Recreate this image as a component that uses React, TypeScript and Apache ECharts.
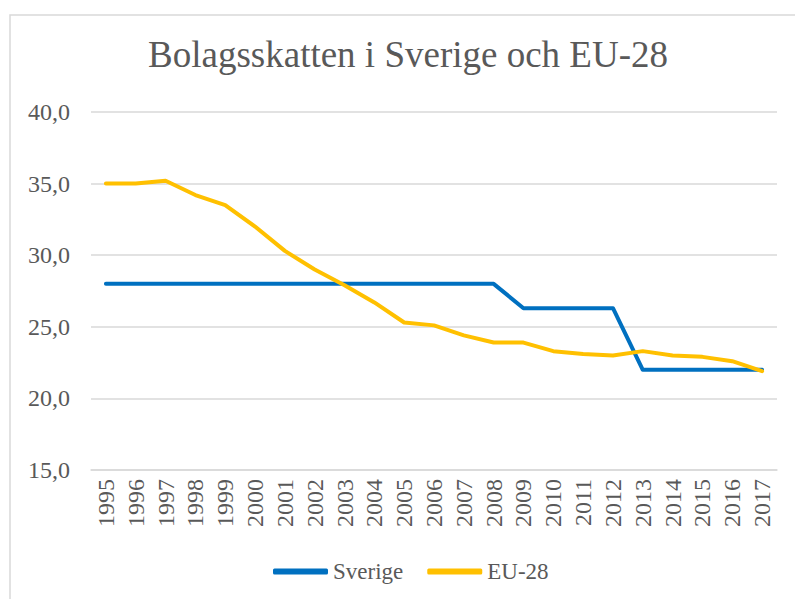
import React, { useEffect, useRef } from "react";
import * as echarts from "echarts";

const years = ["1995","1996","1997","1998","1999","2000","2001","2002","2003","2004","2005","2006","2007","2008","2009","2010","2011","2012","2013","2014","2015","2016","2017"];
const sverige = [28.0,28.0,28.0,28.0,28.0,28.0,28.0,28.0,28.0,28.0,28.0,28.0,28.0,28.0,26.3,26.3,26.3,26.3,22.0,22.0,22.0,22.0,22.0];
const eu28 = [35.0,35.0,35.2,34.2,33.5,32.0,30.3,29.0,27.9,26.7,25.3,25.1,24.4,23.9,23.9,23.3,23.1,23.0,23.3,23.0,22.9,22.6,21.9];
const yTicks = { min: 15, max: 40, interval: 5 };
const title = "Bolagsskatten i Sverige och EU-28";

const FONT = "Liberation Serif";
const TXT = "#595959";

export default function App() {
  const ref = useRef<HTMLDivElement>(null);
  useEffect(() => {
    document.body.style.margin = "0";
    const chart = echarts.init(ref.current!, null, { renderer: "svg" });
    chart.setOption({
      animation: false,
      backgroundColor: "#ffffff",
      textStyle: { fontFamily: FONT },
      graphic: [
        {
          type: "rect",
          shape: { x: 10, y: 15, width: 800, height: 600 },
          style: { fill: "none", stroke: "#d9d9d9", lineWidth: 1.5 },
          silent: true,
        },
      ],
      title: {
        text: title,
        left: 408,
        textAlign: "center",
        top: 36,
        padding: 0,
        textStyle: { fontFamily: FONT, fontSize: 37, fontWeight: "normal", color: TXT },
      },
      legend: {
        left: 273,
        top: 560,
        padding: 0,
        icon: "roundRect",
        itemWidth: 55,
        itemHeight: 6,
        itemGap: 24,
        textStyle: { fontFamily: FONT, fontSize: 23, color: TXT },
        data: ["Sverige", "EU-28"],
      },
      grid: { left: 91, right: 18, top: 112, bottom: 129, containLabel: false },
      xAxis: {
        type: "category",
        data: years,
        boundaryGap: true,
        axisLine: { lineStyle: { color: "#d9d9d9", width: 1.5 } },
        axisTick: { show: false },
        axisLabel: { rotate: 90, fontFamily: FONT, fontSize: 24, color: TXT, margin: 9, interval: 0 },
      },
      yAxis: {
        type: "value",
        min: yTicks.min,
        max: yTicks.max,
        interval: yTicks.interval,
        axisLine: { show: false },
        axisTick: { show: false },
        splitLine: { lineStyle: { color: "#d9d9d9", width: 1.5 } },
        axisLabel: {
          fontFamily: FONT,
          fontSize: 24,
          color: TXT,
          margin: 21,
          formatter: (v: number) => v.toFixed(1).replace(".", ","),
        },
      },
      series: [
        {
          name: "Sverige",
          type: "line",
          data: sverige,
          symbol: "none",
          color: "#0070C0",
          lineStyle: { width: 4, color: "#0070C0", cap: "round", join: "round" },
        },
        {
          name: "EU-28",
          type: "line",
          data: eu28,
          symbol: "none",
          color: "#FFC000",
          lineStyle: { width: 4, color: "#FFC000", cap: "round", join: "round" },
        },
      ],
    });
    return () => chart.dispose();
  }, []);
  return <div ref={ref} style={{ width: 795, height: 599 }} />;
}
